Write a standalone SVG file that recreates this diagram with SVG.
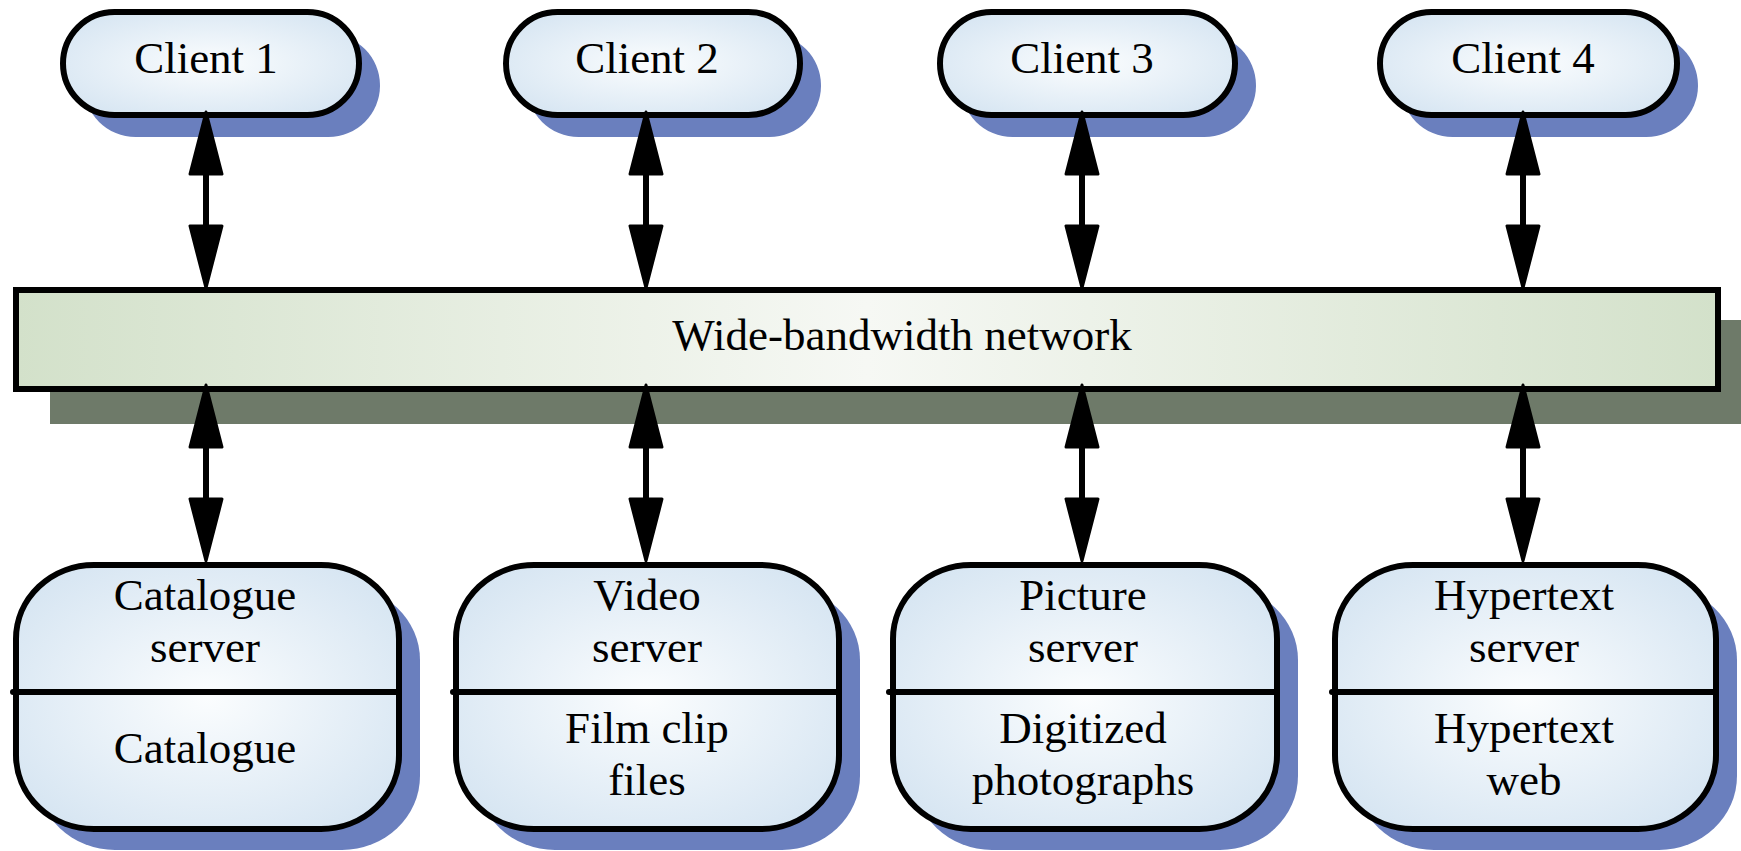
<svg xmlns="http://www.w3.org/2000/svg" width="1741" height="851" viewBox="0 0 1741 851">
  <defs>
    <radialGradient id="nodeFill" cx="0.5" cy="0.5" r="0.62">
      <stop offset="0" stop-color="#fbfdfe"/>
      <stop offset="1" stop-color="#d6e5f2"/>
    </radialGradient>
    <linearGradient id="busFill" x1="0" y1="0" x2="1" y2="0">
      <stop offset="0" stop-color="#d3e1ca"/>
      <stop offset="0.5" stop-color="#f6f8f4"/>
      <stop offset="1" stop-color="#d3e1ca"/>
    </linearGradient>
    <marker id="head" markerUnits="userSpaceOnUse" markerWidth="70" markerHeight="40"
            viewBox="-2 -20 68 40" refX="0" refY="0" orient="auto-start-reverse" overflow="visible">
      <path d="M0,-16 L62,0 L0,16 Z" fill="#000" stroke="#000" stroke-width="3" stroke-linejoin="round"/>
    </marker>
    <style>
      .shadow { fill: #6a7fbe; }
      .busShadow { fill: #6e7a69; }
      .node { fill: url(#nodeFill); stroke: #000; stroke-width: 6; }
      .bus { fill: url(#busFill); stroke: #000; stroke-width: 6; }
      .divider { stroke: #000; stroke-width: 6; stroke-linecap: round; }
      .label { font-family: "Liberation Serif", "Times New Roman", serif; font-size: 45px; fill: #000; text-anchor: middle; }
      .link { stroke: #000; stroke-width: 6; fill: none; marker-start: url(#head); marker-end: url(#head); }
    </style>
  </defs>

  <!-- client pills -->
  <g id="client1">
    <rect class="shadow" x="84" y="34" width="296" height="103" rx="51.5"/>
    <rect class="node" x="63" y="12" width="296" height="103" rx="51.5"/>
    <text class="label" x="206" y="73">Client 1</text>
  </g>
  <g id="client2">
    <rect class="shadow" x="527" y="34" width="294" height="103" rx="51.5"/>
    <rect class="node" x="506" y="12" width="294" height="103" rx="51.5"/>
    <text class="label" x="647" y="73">Client 2</text>
  </g>
  <g id="client3">
    <rect class="shadow" x="961" y="34" width="295" height="103" rx="51.5"/>
    <rect class="node" x="940" y="12" width="295" height="103" rx="51.5"/>
    <text class="label" x="1082" y="73">Client 3</text>
  </g>
  <g id="client4">
    <rect class="shadow" x="1401" y="34" width="297" height="103" rx="51.5"/>
    <rect class="node" x="1380" y="12" width="297" height="103" rx="51.5"/>
    <text class="label" x="1523" y="73">Client 4</text>
  </g>

  <!-- shared network bar -->
  <g id="network">
    <rect class="busShadow" x="50" y="320" width="1700" height="104"/>
    <rect class="bus" x="16" y="290" width="1702" height="99"/>
    <text class="label" x="902" y="350">Wide-bandwidth network</text>
  </g>

  <!-- server boxes -->
  <g id="catalogueServer">
    <rect class="shadow" x="37" y="586" width="383" height="264" rx="78" ry="74"/>
    <rect class="node" x="16" y="565" width="383" height="264" rx="78" ry="74"/>
    <line class="divider" x1="13" y1="692" x2="399" y2="692"/>
    <text class="label" x="205" y="610">Catalogue</text>
    <text class="label" x="205" y="662">server</text>
    <text class="label" x="205" y="763">Catalogue</text>
  </g>
  <g id="videoServer">
    <rect class="shadow" x="477" y="586" width="383" height="264" rx="78" ry="74"/>
    <rect class="node" x="456" y="565" width="383" height="264" rx="78" ry="74"/>
    <line class="divider" x1="453" y1="692" x2="839" y2="692"/>
    <text class="label" x="647" y="610">Video</text>
    <text class="label" x="647" y="662">server</text>
    <text class="label" x="647" y="743">Film clip</text>
    <text class="label" x="647" y="795">files</text>
  </g>
  <g id="pictureServer">
    <rect class="shadow" x="914" y="586" width="384" height="264" rx="78" ry="74"/>
    <rect class="node" x="893" y="565" width="384" height="264" rx="78" ry="74"/>
    <line class="divider" x1="889" y1="692" x2="1277" y2="692"/>
    <text class="label" x="1083" y="610">Picture</text>
    <text class="label" x="1083" y="662">server</text>
    <text class="label" x="1083" y="743">Digitized</text>
    <text class="label" x="1083" y="795">photographs</text>
  </g>
  <g id="hypertextServer">
    <rect class="shadow" x="1356" y="586" width="381" height="264" rx="78" ry="74"/>
    <rect class="node" x="1335" y="565" width="381" height="264" rx="78" ry="74"/>
    <line class="divider" x1="1332" y1="692" x2="1716" y2="692"/>
    <text class="label" x="1524" y="610">Hypertext</text>
    <text class="label" x="1524" y="662">server</text>
    <text class="label" x="1524" y="743">Hypertext</text>
    <text class="label" x="1524" y="795">web</text>
  </g>

  <!-- two-way links to the network -->
  <g id="connectors">
    <line class="link" x1="206" y1="174" x2="206" y2="226"/>
    <line class="link" x1="646" y1="174" x2="646" y2="226"/>
    <line class="link" x1="1082" y1="174" x2="1082" y2="226"/>
    <line class="link" x1="1523" y1="174" x2="1523" y2="226"/>
    <line class="link" x1="206" y1="447" x2="206" y2="499"/>
    <line class="link" x1="646" y1="447" x2="646" y2="499"/>
    <line class="link" x1="1082" y1="447" x2="1082" y2="499"/>
    <line class="link" x1="1523" y1="447" x2="1523" y2="499"/>
  </g>
</svg>
